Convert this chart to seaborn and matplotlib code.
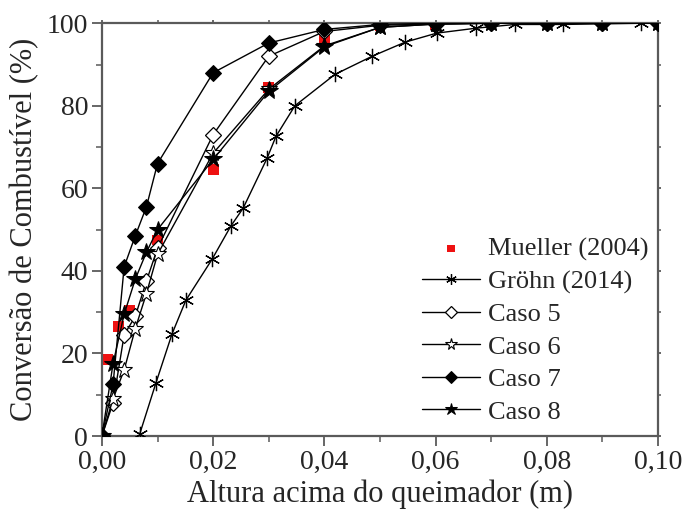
import matplotlib
matplotlib.use("Agg")
import matplotlib.pyplot as plt
import seaborn as sns
import numpy as np

# ---- data ----
mueller_x = [0.001, 0.003, 0.005, 0.010, 0.020, 0.030, 0.040, 0.050, 0.060]
mueller_y = [18.5, 26.5, 30.5, 47.5, 64.5, 84.5, 96.5, 99.3, 99.6]

grohn_x = [0.0068, 0.0097, 0.0126, 0.0151, 0.0198, 0.0232, 0.0254, 0.0297, 0.0313,
           0.0347, 0.0419, 0.0486, 0.0545, 0.0602, 0.0673, 0.0743, 0.0829, 0.0970]
grohn_y = [0.5, 12.8, 24.7, 32.9, 42.8, 50.9, 55.2, 67.3, 72.6,
           80.0, 87.6, 92.0, 95.4, 97.6, 98.8, 99.7, 99.7, 100.0]

caso_x = [0.0, 0.002, 0.004, 0.006, 0.008, 0.010, 0.020, 0.030, 0.040,
          0.050, 0.060, 0.070, 0.080, 0.090, 0.100]
caso5_y = [0, 8.0, 24.5, 29.0, 37.5, 45.5, 73.0, 92.0, 98.0, 99.5, 99.8, 100, 100, 100, 100]
caso6_y = [0, 9.0, 16.0, 26.0, 34.5, 44.0, 68.5, 84.0, 94.5, 99.0, 99.8, 100, 100, 100, 100]
caso7_y = [0, 12.5, 41.0, 48.5, 55.5, 66.0, 88.0, 95.2, 98.5, 99.7, 100, 100, 100, 100, 100]
caso8_y = [0, 17.5, 29.5, 38.0, 44.5, 50.0, 67.0, 83.5, 94.3, 99.0, 99.8, 100, 100, 100, 100]

x_ticks = [0.00, 0.02, 0.04, 0.06, 0.08, 0.10]
x_tick_labels = ["0,00", "0,02", "0,04", "0,06", "0,08", "0,10"]
y_ticks = [0, 20, 40, 60, 80, 100]

sns.set_theme(style="ticks")
plt.rcParams["font.family"] = ["Liberation Serif", "DejaVu Serif"]

fig = plt.figure(figsize=(6.84, 5.16), dpi=100)
ax = fig.add_axes([0.149, 0.155, 0.813, 0.800])

sns.scatterplot(x=mueller_x, y=mueller_y, ax=ax, marker="s", color="#ee1111",
                s=60, edgecolor="none", linewidth=0, label="Mueller (2004)", zorder=2)

common = dict(ax=ax, color="black", linewidth=1.0, sort=False, estimator=None, zorder=3)
sns.lineplot(x=grohn_x, y=grohn_y, marker=(6, 2, 0), markersize=11,
             markeredgecolor="black", markeredgewidth=0.9, label="Gröhn (2014)", **common)
sns.lineplot(x=caso_x, y=caso5_y, marker="D", markersize=8.5, markerfacecolor="white",
             markeredgecolor="black", markeredgewidth=0.9, label="Caso 5", **common)
sns.lineplot(x=caso_x, y=caso6_y, marker="*", markersize=12, markerfacecolor="white",
             markeredgecolor="black", markeredgewidth=0.8, label="Caso 6", **common)
sns.lineplot(x=caso_x, y=caso7_y, marker="D", markersize=8.5, markerfacecolor="black",
             markeredgecolor="black", label="Caso 7", **common)
sns.lineplot(x=caso_x, y=caso8_y, marker="*", markersize=13, markerfacecolor="black",
             markeredgecolor="black", label="Caso 8", **common)

ax.set_xlim(0, 0.10)
ax.set_ylim(0, 100)
ax.set_xticks(x_ticks)
ax.set_xticklabels(x_tick_labels)
ax.set_yticks(y_ticks)
ax.set_xticks(np.arange(0.01, 0.10, 0.02), minor=True)
ax.set_yticks(np.arange(10, 100, 20), minor=True)

spine_col = "#5a5a5a"
for s in ax.spines.values():
    s.set_visible(True)
    s.set_color(spine_col)
    s.set_linewidth(1.6)

ax.tick_params(axis="both", which="major", direction="out", length=7, width=1.3,
               color=spine_col, labelsize=20, pad=3)
ax.tick_params(axis="both", which="minor", direction="out", length=4, width=1.1,
               color=spine_col)
ax.tick_params(top=True, right=True, which="both")
for t in ax.xaxis.get_major_ticks() + ax.xaxis.get_minor_ticks():
    t.tick2line.set_markersize(2)
for t in ax.yaxis.get_major_ticks() + ax.yaxis.get_minor_ticks():
    t.tick2line.set_markersize(2)

ax.set_xlabel("Altura acima do queimador (m)", fontsize=22, labelpad=3)
ax.set_ylabel("Conversão de Combustível (%)", fontsize=22, labelpad=5)

leg = ax.legend(loc="upper left", bbox_to_anchor=(0.5755, 0.482), frameon=False,
                fontsize=19, handlelength=2.2, handletextpad=0.3, labelspacing=0.34,
                borderaxespad=0, borderpad=0, markerscale=0.7)

fig.savefig("out.png", dpi=100)
